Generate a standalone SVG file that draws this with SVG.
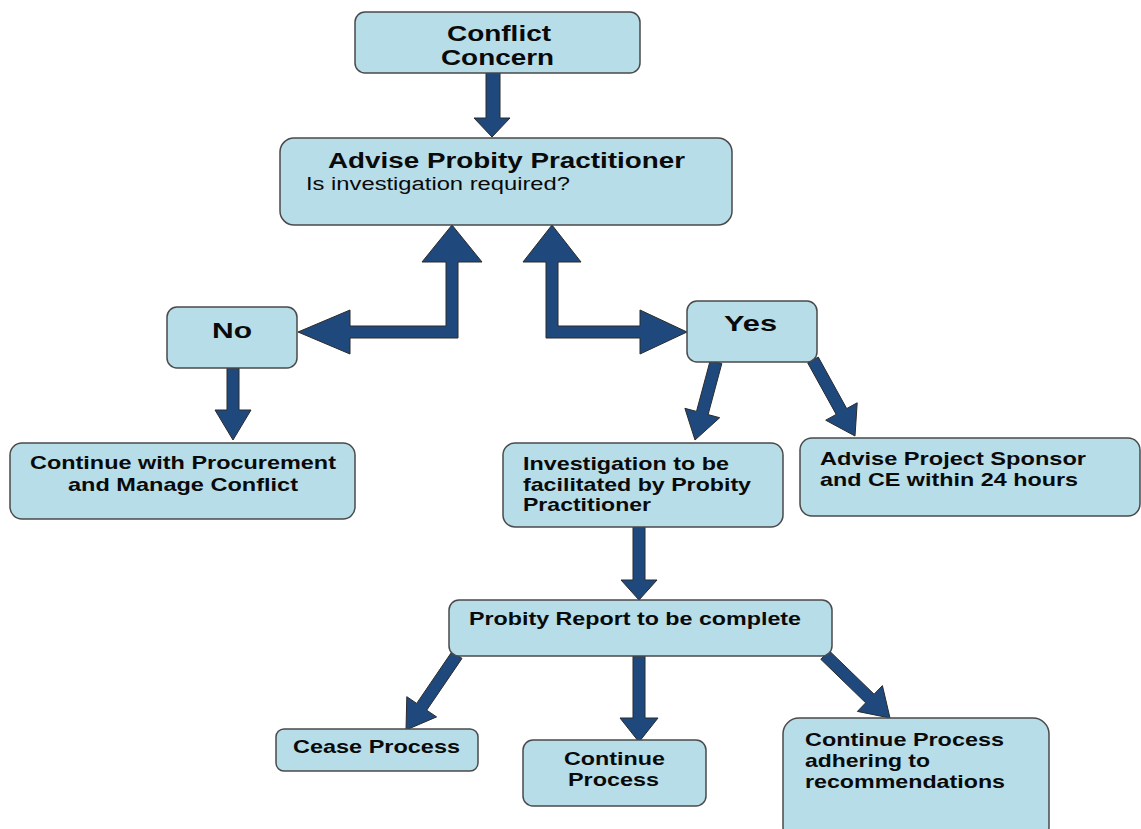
<svg xmlns="http://www.w3.org/2000/svg" width="1141" height="829" viewBox="0 0 1141 829">
<style>
.box{fill:#b7dde8;stroke:#4a4a4a;stroke-width:1.5}
.arr{fill:#1f497d;stroke:#2b2b2b;stroke-width:1;stroke-linejoin:miter}
.t{font-family:"Liberation Sans",Arial,sans-serif;font-weight:bold;fill:#0a0a0a}
.big{font-size:22px}
.mid{font-size:19px}
.reg{font-family:"Liberation Sans",Arial,sans-serif;font-weight:normal;font-size:18px;fill:#0a0a0a}
</style>
<rect width="1141" height="829" fill="#ffffff"/>
<g id="connectors">
  <polygon class="arr" points="486,73 500,73 500,118 510,118 492,137 474,118 486,118"/>
  <polygon class="arr" points="452,225 482,262 458,262 458,338 350,338 350,354 298,332 350,310 350,326 446,326 446,262 422,262"/>
  <polygon class="arr" points="552,225 581,262 558,262 558,326 640,326 640,310 687,332 640,354 640,338 546,338 546,262 523,262"/>
  <polygon class="arr" points="227,368 239,368 239,410 251,410 233,440 215,410 227,410"/>
  <polygon class="arr" points="710.2,360.4 696.5,411.4 684.9,408.3 695,440 719.7,417.7 708.1,414.6 721.8,363.6"/>
  <polygon class="arr" points="807.7,362.9 836.2,414.4 825.7,420.2 855,436 857.2,402.8 846.7,408.6 818.3,357.1"/>
  <polygon class="arr" points="633,527 645,527 645,580 657,580 639,600 621,580 633,580"/>
  <polygon class="arr" points="452,651.6 416.7,703.4 406.8,696.7 406,730 436.6,716.9 426.7,710.2 462,658.4"/>
  <polygon class="arr" points="633,656 645,656 645,718 658,718 639,742 620,718 633,718"/>
  <polygon class="arr" points="820.8,659.3 865.7,702.8 857.4,711.4 890,718 882.4,685.6 874.1,694.2 829.2,650.7"/>
</g>
<g id="conflict">
  <rect class="box" x="355" y="12" width="285" height="61" rx="10"/>
  <text class="t big" x="447" y="41" textLength="104" lengthAdjust="spacingAndGlyphs">Conflict</text>
  <text class="t big" x="441" y="65" textLength="113" lengthAdjust="spacingAndGlyphs">Concern</text>
</g>
<g id="advise">
  <rect class="box" x="280" y="138" width="452" height="87" rx="14"/>
  <text class="t big" x="328" y="168" textLength="357" lengthAdjust="spacingAndGlyphs">Advise Probity Practitioner</text>
  <text class="reg" x="306" y="190" textLength="264" lengthAdjust="spacingAndGlyphs">Is investigation required?</text>
</g>
<g id="no">
  <rect class="box" x="167" y="307" width="130" height="61" rx="10"/>
  <text class="t big" x="212" y="338" textLength="40" lengthAdjust="spacingAndGlyphs">No</text>
</g>
<g id="yes">
  <rect class="box" x="687" y="301" width="130" height="61" rx="10"/>
  <text class="t big" x="724" y="331" textLength="53" lengthAdjust="spacingAndGlyphs">Yes</text>
</g>
<g id="continue-procurement">
  <rect class="box" x="10" y="443" width="345" height="76" rx="12"/>
  <text class="t mid" x="30" y="469" textLength="306" lengthAdjust="spacingAndGlyphs">Continue with Procurement</text>
  <text class="t mid" x="68" y="491" textLength="230" lengthAdjust="spacingAndGlyphs">and Manage Conflict</text>
</g>
<g id="investigation">
  <rect class="box" x="503" y="443" width="280" height="84" rx="12"/>
  <text class="t mid" x="523" y="470" textLength="206" lengthAdjust="spacingAndGlyphs">Investigation to be</text>
  <text class="t mid" x="523" y="491" textLength="228" lengthAdjust="spacingAndGlyphs">facilitated by Probity</text>
  <text class="t mid" x="523" y="511" textLength="128" lengthAdjust="spacingAndGlyphs">Practitioner</text>
</g>
<g id="advise-sponsor">
  <rect class="box" x="800" y="438" width="340" height="78" rx="12"/>
  <text class="t mid" x="820" y="465" textLength="266" lengthAdjust="spacingAndGlyphs">Advise Project Sponsor</text>
  <text class="t mid" x="820" y="486" textLength="258" lengthAdjust="spacingAndGlyphs">and CE within 24 hours</text>
</g>
<g id="probity-report">
  <rect class="box" x="449" y="600" width="383" height="56" rx="10"/>
  <text class="t mid" x="469" y="625" textLength="332" lengthAdjust="spacingAndGlyphs">Probity Report to be complete</text>
</g>
<g id="cease">
  <rect class="box" x="276" y="729" width="202" height="42" rx="8"/>
  <text class="t mid" x="293" y="753" textLength="167" lengthAdjust="spacingAndGlyphs">Cease Process</text>
</g>
<g id="continue-process">
  <rect class="box" x="523" y="740" width="183" height="66" rx="10"/>
  <text class="t mid" x="564" y="765" textLength="101" lengthAdjust="spacingAndGlyphs">Continue</text>
  <text class="t mid" x="568" y="786" textLength="91" lengthAdjust="spacingAndGlyphs">Process</text>
</g>
<g id="continue-adhering">
  <rect class="box" x="783" y="718" width="266" height="125" rx="16"/>
  <text class="t mid" x="805" y="746" textLength="199" lengthAdjust="spacingAndGlyphs">Continue Process</text>
  <text class="t mid" x="805" y="767" textLength="125" lengthAdjust="spacingAndGlyphs">adhering to</text>
  <text class="t mid" x="805" y="788" textLength="200" lengthAdjust="spacingAndGlyphs">recommendations</text>
</g>
</svg>
